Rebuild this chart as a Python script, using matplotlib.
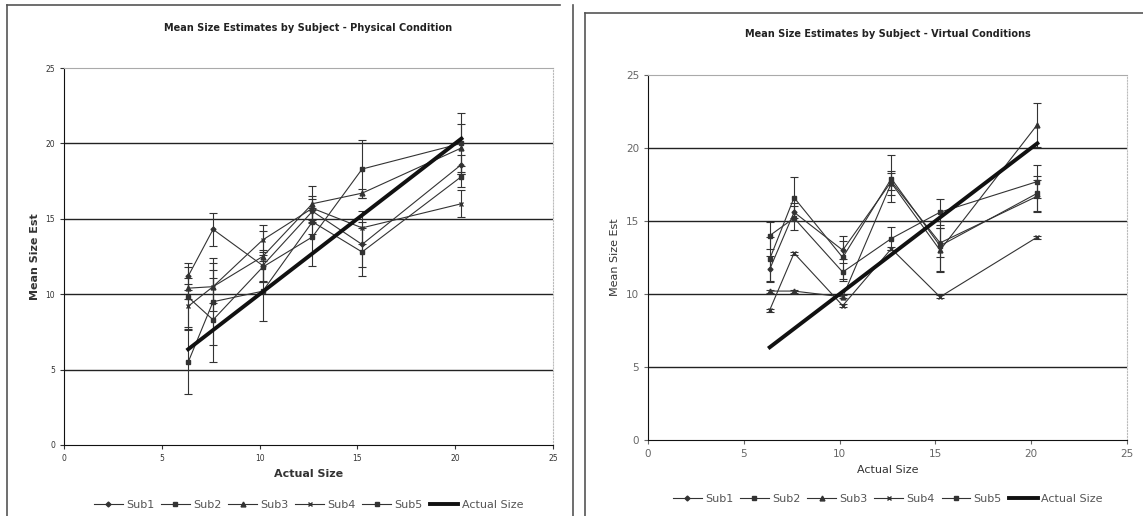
import matplotlib
matplotlib.use("Agg")
import matplotlib.pyplot as plt
from matplotlib.lines import Line2D

# actual object sizes (shared by both panels)
sizes = [6.35, 7.62, 10.16, 12.7, 15.24, 20.32]
subjects = ["Sub1", "Sub2", "Sub3", "Sub4", "Sub5"]

# physical condition: means and error bar half-widths
phys_sub1 = [11.2, 14.3, 11.9, 15.5, 13.3, 18.6]
phys_sub2 = [9.8, 8.3, 11.8, 13.8, 18.3, 20.0]
phys_sub3 = [10.4, 10.5, 12.5, 16.0, 16.7, 19.7]
phys_sub4 = [9.2, 10.5, 13.6, 15.7, 14.4, 16.0]
phys_sub5 = [5.5, 9.5, 10.2, 14.8, 12.8, 17.8]
phys_err1 = [0.9, 1.1, 1.0, 0.8, 1.5, 0.6]
phys_err2 = [2.0, 2.8, 1.0, 1.9, 1.9, 2.0]
phys_err3 = [0.7, 1.6, 1.7, 1.2, 0.3, 1.6]
phys_err4 = [1.5, 1.1, 1.0, 0.8, 1.1, 0.9]
phys_err5 = [2.1, 2.9, 2.0, 0.8, 1.6, 0.7]

# virtual conditions
virt_sub1 = [11.7, 15.6, 13.0, 17.7, 13.5, 16.7]
virt_sub2 = [12.4, 16.6, 12.5, 17.9, 13.3, 16.9]
virt_sub3 = [10.2, 10.2, 9.8, 17.6, 13.0, 21.6]
virt_sub4 = [8.9, 12.8, 9.2, 13.1, 9.8, 13.9]
virt_sub5 = [14.0, 15.2, 11.5, 13.8, 15.6, 17.7]
virt_err1 = [0.9, 0.6, 0.6, 0.6, 1.0, 1.1]
virt_err2 = [1.5, 1.4, 1.5, 1.6, 1.7, 1.2]
virt_err3 = [0.1, 0.1, 0.1, 0.8, 1.5, 1.5]
virt_err4 = [0.1, 0.1, 0.1, 0.1, 0.1, 0.1]
virt_err5 = [0.9, 0.8, 0.6, 0.8, 0.9, 1.1]

markers = ["D", "s", "^", "x", "s"]
marker_sizes = [2.5, 3.5, 3.5, 3.5, 3]
LINE_COLOR = "#333333"


def draw_panel(ax, means, errs, title, bold_labels, tick_size, tick_color):
    handles = []
    for name, m, e, mk, ms in zip(subjects, means, errs, markers, marker_sizes):
        ax.errorbar(sizes, m, yerr=e, color=LINE_COLOR, lw=0.8, marker=mk, ms=ms,
                    capsize=3, elinewidth=0.8, capthick=0.8, zorder=3)
        handles.append(Line2D([], [], color=LINE_COLOR, lw=0.8, marker=mk, ms=ms, label=name))
    line, = ax.plot(sizes, sizes, color="#111111", lw=2.8, label="Actual Size", zorder=4)
    handles.append(line)

    ax.set_xlim(0, 25)
    ax.set_ylim(0, 25)
    ax.set_xticks(range(0, 26, 5))
    ax.set_yticks(range(0, 26, 5))
    ax.tick_params(labelsize=tick_size, colors=tick_color, length=3, width=0.8)
    for y in (5, 10, 15, 20):
        ax.axhline(y, color="#222222", lw=1.0, zorder=1)
    ax.spines["top"].set_color("#aaaaaa")
    ax.spines["right"].set_color("#bbbbbb")
    ax.spines["right"].set_linestyle(":")
    ax.spines["left"].set_color("#111111")
    ax.spines["bottom"].set_color("#111111")
    weight = "bold" if bold_labels else "normal"
    ax.set_xlabel("Actual Size", fontsize=8, fontweight=weight, color="#333333")
    ax.set_ylabel("Mean Size Est", fontsize=8, fontweight=weight, color="#333333")
    ax.set_title(title, fontsize=7, fontweight="bold", color="#222222", pad=27)
    ax.legend(handles=handles, loc="upper center", bbox_to_anchor=(0.5, -0.12), ncol=6,
              frameon=False, fontsize=8, handlelength=2.6, handletextpad=0.3,
              columnspacing=0.6, labelcolor="#555555")


fig = plt.figure(figsize=(11.43, 5.16), dpi=100)
ax1 = fig.add_axes([0.056, 0.1376, 0.4278, 0.7306])
ax2 = fig.add_axes([0.567, 0.1473, 0.419, 0.7074])

draw_panel(ax1, [phys_sub1, phys_sub2, phys_sub3, phys_sub4, phys_sub5],
           [phys_err1, phys_err2, phys_err3, phys_err4, phys_err5],
           "Mean Size Estimates by Subject - Physical Condition", True, 5.5, "#333333")
draw_panel(ax2, [virt_sub1, virt_sub2, virt_sub3, virt_sub4, virt_sub5],
           [virt_err1, virt_err2, virt_err3, virt_err4, virt_err5],
           "Mean Size Estimates by Subject - Virtual Conditions", False, 7.5, "#666666")

# scanned chart frames
frame = dict(color="#555555", lw=1.2)
fig.add_artist(Line2D([0.006, 0.006], [0.0, 0.99], **frame))
fig.add_artist(Line2D([0.006, 0.49], [0.99, 0.99], **frame))
fig.add_artist(Line2D([0.501, 0.501], [0.0, 0.99], **frame))
fig.add_artist(Line2D([0.512, 0.512], [0.0, 0.975], **frame))
fig.add_artist(Line2D([0.512, 1.0], [0.975, 0.975], **frame))

fig.savefig("out.png", dpi=100)
